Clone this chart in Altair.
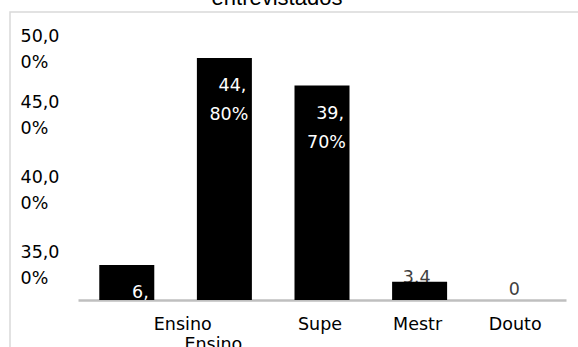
import altair as alt
import pandas as pd

# ---- data ----
categories = ["Ensino Fundamental", "Ensino Médio", "Superior", "Mestrado", "Doutorado"]
values = [6.5, 44.8, 39.7, 3.4, 0.0]
label_line1 = ["6,", "44,", "39,", "3,4", "0"]
label_line2 = ["", "80%", "70%", "", ""]
x_labels = ["Ensino", "Ensino", "Supe", "Mestr", "Douto"]
title_text = "entrevistados"

y_label_first = ["50,0", "45,0", "40,0", "35,0"]
y_label_second = ["0%", "0%", "0%", "0%"]
y_label_at = [47.96, 35.56, 21.67, 7.96]

df = pd.DataFrame({"cat": categories, "val": values, "l1": label_line1,
                   "l2": label_line2, "xl": x_labels})

FONT = "DejaVu Sans"
FS = 17.5

label_expr = " : ".join(
    f"abs(datum.value - {p}) < 0.01 ? ['{a}', '{b}']"
    for p, a, b in zip(y_label_at, y_label_first, y_label_second)
) + " : ''"

xscale = alt.Scale(domain=categories, paddingInner=0.4365, paddingOuter=0.218)
yscale = alt.Scale(domain=[0, 50], nice=False, zero=True)

X = alt.X("cat:N", sort=categories, scale=xscale,
          axis=alt.Axis(title=None, labels=False, ticks=False, domain=True,
                        domainColor="#bfbfbf", domainWidth=2.5))
Y = alt.Y("val:Q", scale=yscale,
          axis=alt.Axis(title=None, grid=False, domain=False, ticks=False, tickSize=0,
                        values=y_label_at, labelExpr=label_expr, labelAlign="left",
                        labelBaseline="alphabetic", labelPadding=58, labelFont=FONT,
                        labelFontSize=FS, labelColor="#000000", labelOverlap=False,
                        labelLineHeight=26))

base = alt.Chart(df).encode(x=X)

frame = alt.Chart(pd.DataFrame({"a": [0]})).mark_rect(
    fill=None, stroke="#d9d9d9", strokeWidth=1.5
).encode(x=alt.value(-68), x2=alt.value(620), y=alt.value(-18), y2=alt.value(420))

title = alt.Chart(pd.DataFrame({"t": [title_text]})).mark_text(
    font="Liberation Sans", fontSize=22, color="#000000", align="center", baseline="alphabetic"
).encode(x=alt.value(199), y=alt.value(-25), text="t:N")

sel4 = alt.FieldOneOfPredicate(field="cat", oneOf=[categories[3]])
sel5 = alt.FieldOneOfPredicate(field="cat", oneOf=[categories[4]])
sel123 = alt.FieldOneOfPredicate(field="cat", oneOf=categories[:3])

out4 = base.transform_filter(sel4).mark_text(
    font=FONT, fontSize=FS, color="#404040", align="center", baseline="alphabetic", dx=-3, dy=1
).encode(y=Y, text="l1:N")
out5 = base.transform_filter(sel5).mark_text(
    font=FONT, fontSize=FS, color="#404040", align="center", baseline="alphabetic", dx=-3, dy=-5
).encode(y=Y, text="l1:N")

bars = base.mark_bar(color="#000000").encode(y=Y)

in1 = base.transform_filter(sel123).mark_text(
    font=FONT, fontSize=FS, color="#ffffff", align="right", baseline="alphabetic", dx=22, dy=33
).encode(y=Y, text="l1:N")
in2 = base.transform_filter(sel123).mark_text(
    font=FONT, fontSize=FS, color="#ffffff", align="right", baseline="alphabetic", dx=24, dy=62
).encode(y=Y, text="l2:N")

xl1 = base.transform_filter(alt.FieldOneOfPredicate(field="cat", oneOf=[categories[0]])).mark_text(
    font=FONT, fontSize=FS, color="#000000", align="center", baseline="alphabetic", dx=56, dy=30
).encode(y=alt.datum(0), text="xl:N")
xl2 = base.transform_filter(alt.FieldOneOfPredicate(field="cat", oneOf=[categories[1]])).mark_text(
    font=FONT, fontSize=FS, color="#000000", align="left", baseline="alphabetic", dx=-40, dy=50
).encode(y=alt.datum(0), text="xl:N")
xl3 = base.transform_filter(alt.FieldOneOfPredicate(field="cat", oneOf=categories[2:])).mark_text(
    font=FONT, fontSize=FS, color="#000000", align="center", baseline="alphabetic", dx=-2, dy=30
).encode(y=alt.datum(0), text="xl:N")

chart = alt.layer(frame, title, out4, out5, bars, in1, in2, xl1, xl2, xl3).properties(
    width=488, height=270,
    autosize=alt.AutoSizeParams(type="none"),
    padding={"left": 78, "top": 30, "right": 12, "bottom": 47},
    background="#ffffff",
).configure_view(stroke=None)

chart.save("out.html", embed_options={"renderer": "svg", "actions": False})
